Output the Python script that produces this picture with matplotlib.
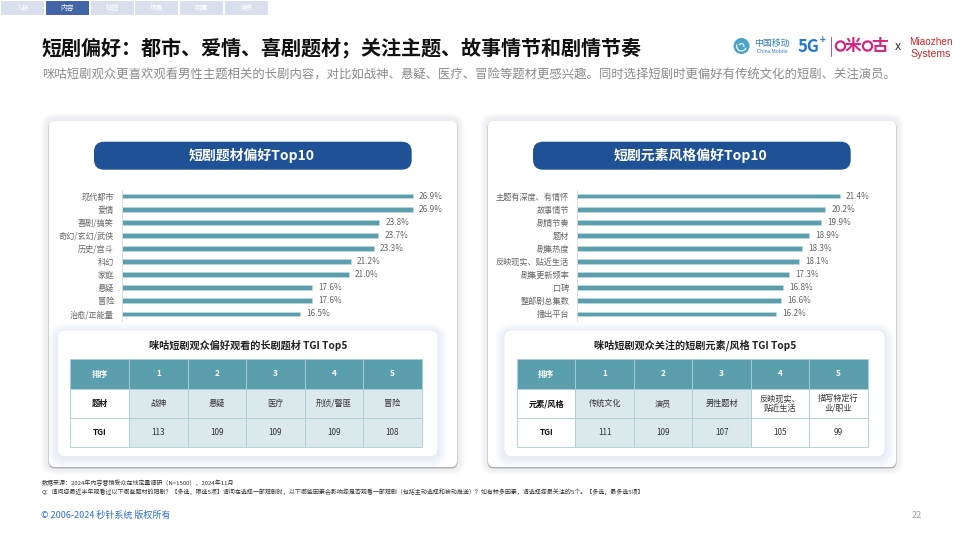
import matplotlib
matplotlib.use('Agg')
import matplotlib.pyplot as plt
from matplotlib.patches import FancyBboxPatch, Rectangle, Circle, Wedge

plt.rcParams['font.family'] = ['Noto Sans CJK SC', 'DejaVu Sans']

tabs = ['人群', '内容', '粘性', '场景', '明星', '消费']

genre_labels = ['现代都市', '爱情', '喜剧/搞笑', '奇幻/玄幻/武侠', '历史/宫斗', '科幻', '家庭', '悬疑', '冒险', '治愈/正能量']
genre_values = [26.9, 26.9, 23.8, 23.7, 23.3, 21.2, 21.0, 17.6, 17.6, 16.5]

style_labels = ['主题有深度、有情怀', '故事情节', '剧情节奏', '题材', '剧集热度', '反映现实、贴近生活', '剧集更新频率', '口碑', '整部剧总集数', '播出平台']
style_values = [21.4, 20.2, 19.9, 18.9, 18.3, 18.1, 17.3, 16.8, 16.6, 16.2]

rank_header = ['排序', '1', '2', '3', '4', '5']
genre_row = ['题材', '战神', '悬疑', '医疗', '刑侦/警匪', '冒险']
genre_tgi = ['TGI', '113', '109', '109', '109', '108']
style_row = ['元素/风格', '传统文化', '演员', '男性题材', '反映现实、\n贴近生活', '描写特定行\n业/职业']
style_tgi = ['TGI', '111', '109', '107', '105', '99']

title = '短剧偏好：都市、爱情、喜剧题材；关注主题、故事情节和剧情节奏'
subtitle = '咪咕短剧观众更喜欢观看男性主题相关的长剧内容，对比如战神、悬疑、医疗、冒险等题材更感兴趣。同时选择短剧时更偏好有传统文化的短剧、关注演员。'
note1 = '数据来源：2024年内容营销受众在线定量调研（N=1500），2024年11月'
note2 = 'Q：请问您最近半年观看过以下哪些题材的短剧？【多选，限选5项】请问在选择一部短剧时，以下哪些因素会影响您是否观看一部短剧（包括主动选择和被动推送）？如有较多因素，请选择您最关注的5个。【多选，最多选5项】'

TEAL = '#5b9fae'
NAVY = '#1f5197'
PINK = '#d6247f'
W, H = 960, 540

fig = plt.figure(figsize=(9.6, 5.4), dpi=100, facecolor='white')
bg = fig.add_axes([0, 0, 1, 1])
bg.set_xlim(0, W)
bg.set_ylim(H, 0)
bg.axis('off')


def round_box(x0, y0, x1, y1, r, **kw):
    box = FancyBboxPatch((x0 + r, y0 + r), x1 - x0 - 2 * r, y1 - y0 - 2 * r,
                         boxstyle='round,pad=%g,rounding_size=%g' % (r, r), **kw)
    bg.add_patch(box)


def draw_bars(x_left, x_per_unit, labels, values):
    width = 320
    ax = fig.add_axes([x_left / W, 1 - 320.5 / H, width / W, 131 / H])
    ax.patch.set_alpha(0)
    bars = ax.barh(labels, values, height=0.36, color=TEAL, edgecolor='#c3dbe0', linewidth=0.4)
    ax.set_xlim(0, width / x_per_unit)
    ax.set_ylim(9.5, -0.5)
    ax.bar_label(bars, labels=['%.1f%%' % v for v in values], padding=4.5, fontsize=5.9, color='#666666')
    for s in ['top', 'right', 'bottom']:
        ax.spines[s].set_visible(False)
    ax.spines['left'].set_color('#d9d9d9')
    ax.spines['left'].set_linewidth(0.6)
    ax.set_xticks([])
    ax.tick_params(axis='y', length=0, pad=5.5, labelsize=5.9, labelcolor='#666666')


def draw_table(xs, ys, caption, cap_x, rows, shaded):
    bg.text(cap_x, 345.5, caption, ha='center', va='center', fontsize=7.3, fontweight='bold', color='#222222')
    for r, row in enumerate(rows):
        for c, val in enumerate(row):
            if r == 0:
                fc, tc = TEAL, 'white'
            elif c > 0 and c in shaded:
                fc, tc = '#dbe8ec', '#333333'
            else:
                fc, tc = 'white', '#333333'
            bg.add_patch(Rectangle((xs[c], ys[r]), xs[c + 1] - xs[c], ys[r + 1] - ys[r],
                                   facecolor=fc, edgecolor='#a9cfd6', linewidth=0.6))
            bold = r == 0 or c == 0
            bg.text((xs[c] + xs[c + 1]) / 2, (ys[r] + ys[r + 1]) / 2, val, ha='center', va='center',
                    fontsize=5.9, linespacing=1.05, color='#111111' if (c == 0 and r > 0) else tc,
                    fontweight='bold' if bold else 'normal')


# top tabs
tab_x = [1, 46, 91, 135, 180, 225]
for i, name in enumerate(tabs):
    active = i == 1
    bg.add_patch(Rectangle((tab_x[i], 1), 43, 14, facecolor='#4464a8' if active else '#d9dfec', edgecolor='none'))
    bg.text(tab_x[i] + 21.5, 8.3, name, ha='center', va='center', fontsize=4.9, color='white')

bg.text(42, 47.5, title, ha='left', va='center', fontsize=14.45, fontweight='bold', color='#111111')
bg.text(42, 75.5, subtitle, ha='left', va='center', fontsize=8.9, color='#8a8a8a')

# cards
for x0, x1 in [(49, 457), (488, 896)]:
    for i in range(8, 0, -1):
        round_box(x0 - i, 121 - i, x1 + i, 467 + i, 6 + i, facecolor='#9a9fa8', edgecolor='none', alpha=0.022)
    round_box(x0 - 0.5, 122, x1 + 0.5, 468.5, 6, facecolor='#b4b4b4', edgecolor='none')
    round_box(x0, 121, x1, 467, 6, facecolor='white', edgecolor='none')

for x0, x1 in [(57.5, 438), (504, 885)]:
    for i in range(9, 0, -1):
        round_box(x0 - i, 330 - i + 2, x1 + i, 456.7 + i + 2, 8 + i, facecolor='#b9c3e2', edgecolor='none', alpha=0.03)
    round_box(x0, 330, x1, 456.7, 8, facecolor='white', edgecolor='#e8ebf5', linewidth=0.6)

# title pills
for x0, x1, text in [(94, 411.7, '短剧题材偏好Top10'), (533, 850.7, '短剧元素风格偏好Top10')]:
    round_box(x0, 141.7, x1, 169.7, 10, facecolor=NAVY, edgecolor='none')
    bg.text((x0 + x1) / 2 - 1, 155.5, text, ha='center', va='center', fontsize=10, fontweight='bold', color='white')

draw_bars(121.5, 10.82, genre_labels, genre_values)
draw_bars(576.7, 12.29, style_labels, style_values)

draw_table([70.3, 129.3, 187.7, 246.3, 304.7, 363.3, 421.7], [359.3, 388.7, 417.7, 447.3],
           '咪咕短剧观众偏好观看的长剧题材 TGI Top5', 248,
           [rank_header, genre_row, genre_tgi], [1, 2, 3, 4, 5])
draw_table([517.3, 575.3, 634.3, 692.3, 751, 809.3, 867.7], [359.3, 388.7, 418.3, 447.3],
           '咪咕短剧观众关注的短剧元素/风格 TGI Top5', 695,
           [rank_header, style_row, style_tgi], [1, 2, 3])

# footer
bg.text(42, 482.5, note1, ha='left', va='center', fontsize=4.3, color='#333333')
bg.text(42, 491.5, note2, ha='left', va='center', fontsize=4.3, color='#333333')
bg.text(41, 515.5, '© 2006-2024 秒针系统 版权所有', ha='left', va='center', fontsize=6.5, color='#2f6fc8')
bg.text(917, 516, '22', ha='center', va='center', fontsize=6.5, color='#9a9a9a')

# logos
bg.add_patch(Circle((741.5, 46), 8, facecolor='#4aa3c8', edgecolor='none'))
for r, a in [(5.5, (20, 200)), (3, (200, 380))]:
    bg.add_patch(Wedge((741.5, 46), r, a[0], a[1], width=1.2, facecolor='white', edgecolor='none'))
bg.text(772, 43.5, '中国移动', ha='center', va='center', fontsize=6.4, color='#2c7fb8')
bg.text(772, 51.5, 'China Mobile', ha='center', va='center', fontsize=3.6, color='#2c7fb8')
bg.text(808, 47, '5G', ha='center', va='center', fontsize=12, fontweight='bold', style='italic', color='#1f78d1')
bg.text(822, 40, '+', ha='center', va='center', fontsize=7, fontweight='bold', color='#1f78d1')
bg.plot([831, 831], [37, 56], color=PINK, lw=0.6)
for cx in [840.5, 867.5]:
    bg.add_patch(Circle((cx, 46), 4.6, facecolor='none', edgecolor=PINK, linewidth=1.6))
bg.text(853, 45.5, '米', ha='center', va='center', fontsize=12, fontweight='bold', color=PINK)
bg.text(880, 45.5, '古', ha='center', va='center', fontsize=12, fontweight='bold', color=PINK)
bg.text(898, 47, 'x', ha='center', va='center', fontsize=9, color='#333333')
bg.text(931, 42, 'Miaozhen', ha='center', va='center', fontsize=7.2, color='#d2232a', family='Liberation Sans')
bg.text(931, 54, 'Systems', ha='center', va='center', fontsize=7.6, color='#d2232a', family='Liberation Sans')

fig.savefig('out.png', dpi=100)
